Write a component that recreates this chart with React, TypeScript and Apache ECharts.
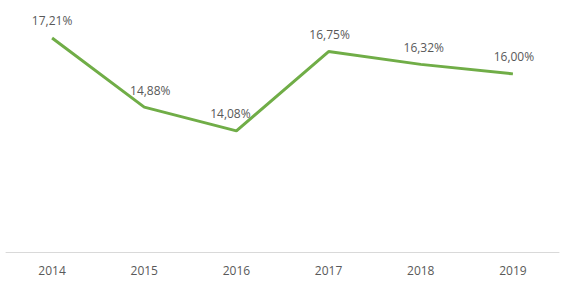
import React, { useEffect, useRef } from "react";
import * as echarts from "echarts";

const years = ["2014", "2015", "2016", "2017", "2018", "2019"];
const rates = [17.21, 14.88, 14.08, 16.75, 16.32, 16.0];
const labelOffsets: [number, number][] = [[0, 0], [6, 0], [-6, 0], [1, 0], [3, 0], [1, 0]];

export default function App() {
  const ref = useRef<HTMLDivElement>(null);
  useEffect(() => {
    if (!ref.current) return;
    const chart = echarts.init(ref.current, undefined, { renderer: "svg" });
    chart.setOption({
      animation: false,
      grid: { left: 6, right: 6, top: 14.5, bottom: 33, containLabel: false },
      xAxis: {
        type: "category",
        data: years,
        boundaryGap: true,
        axisLine: { lineStyle: { color: "#d9d9d9", width: 1 } },
        axisTick: { show: false },
        axisLabel: { color: "#595959", fontSize: 12, fontFamily: "Open Sans", margin: 12 },
      },
      yAxis: {
        type: "value",
        min: 10,
        max: 18,
        show: false,
        splitLine: { show: false },
      },
      series: [
        {
          type: "line",
          data: rates.map((v, i) => ({
            value: v,
            label: { offset: labelOffsets[i] },
          })),
          symbol: "circle",
          symbolSize: 0,
          showSymbol: true,
          lineStyle: { color: "#70AD47", width: 3 },
          itemStyle: { color: "#70AD47" },
          label: {
            show: true,
            position: "top",
            distance: 11,
            color: "#595959",
            fontSize: 12,
            fontFamily: "Open Sans",
            formatter: (p: any) => p.value.toFixed(2).replace(".", ",") + "%",
          },
        },
      ],
    });
    return () => chart.dispose();
  }, []);
  return (
    <div
      ref={ref}
      style={{ position: "absolute", left: 0, top: 0, width: 565, height: 285, background: "#fff" }}
    />
  );
}
